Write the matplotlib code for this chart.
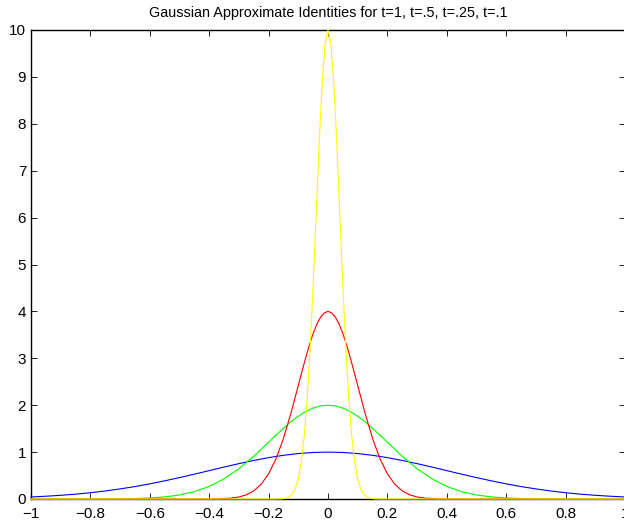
import matplotlib
matplotlib.use("Agg")
import matplotlib.pyplot as plt

plt.rcParams['font.family'] = ['Liberation Sans', 'DejaVu Sans']

# t = 1 (blue), values every 0.05
x_t1 = [-1.00, -0.95, -0.90, -0.85, -0.80, -0.75, -0.70, -0.65, -0.60, -0.55,
        -0.50, -0.45, -0.40, -0.35, -0.30, -0.25, -0.20, -0.15, -0.10, -0.05,
        0.00, 0.05, 0.10, 0.15, 0.20, 0.25, 0.30, 0.35, 0.40, 0.45,
        0.50, 0.55, 0.60, 0.65, 0.70, 0.75, 0.80, 0.85, 0.90, 0.95, 1.00]
y_t1 = [0.043, 0.059, 0.079, 0.103, 0.134, 0.171, 0.215, 0.265, 0.323, 0.387,
        0.456, 0.529, 0.605, 0.681, 0.754, 0.822, 0.882, 0.932, 0.969, 0.992,
        1.000, 0.992, 0.969, 0.932, 0.882, 0.822, 0.754, 0.681, 0.605, 0.529,
        0.456, 0.387, 0.323, 0.265, 0.215, 0.171, 0.134, 0.103, 0.079, 0.059, 0.043]

# t = .5 (green), denser near the peak
x_t05 = [-1.00, -0.95, -0.90, -0.85, -0.80, -0.75, -0.70, -0.65, -0.60, -0.55,
         -0.50, -0.45, -0.40, -0.35, -0.30, -0.25, -0.20, -0.175, -0.15, -0.125,
         -0.10, -0.075, -0.05, -0.025, 0.00, 0.025, 0.05, 0.075, 0.10, 0.125,
         0.15, 0.175, 0.20, 0.25, 0.30, 0.35, 0.40, 0.45, 0.50, 0.55,
         0.60, 0.65, 0.70, 0.75, 0.80, 0.85, 0.90, 0.95, 1.00]
y_t05 = [0.000, 0.000, 0.000, 0.000, 0.001, 0.002, 0.004, 0.010, 0.022, 0.045,
         0.086, 0.157, 0.268, 0.429, 0.645, 0.912, 1.210, 1.361, 1.507, 1.643,
         1.764, 1.864, 1.938, 1.984, 2.000, 1.984, 1.938, 1.864, 1.764, 1.643,
         1.507, 1.361, 1.210, 0.912, 0.645, 0.429, 0.268, 0.157, 0.086, 0.045,
         0.022, 0.010, 0.004, 0.002, 0.001, 0.000, 0.000, 0.000, 0.000]

# t = .25 (red)
x_t025 = [-1.0, -0.4, -0.375, -0.35, -0.325, -0.3, -0.275, -0.25, -0.225, -0.2,
          -0.175, -0.15, -0.125, -0.1, -0.0875, -0.075, -0.0625, -0.05, -0.0375, -0.025,
          -0.0125, 0.0, 0.0125, 0.025, 0.0375, 0.05, 0.0625, 0.075, 0.0875, 0.1,
          0.125, 0.15, 0.175, 0.2, 0.225, 0.25, 0.275, 0.3, 0.325, 0.35,
          0.375, 0.4, 1.0]
y_t025 = [0.000, 0.001, 0.003, 0.009, 0.020, 0.043, 0.089, 0.173, 0.314, 0.536,
          0.859, 1.291, 1.824, 2.420, 2.722, 3.015, 3.287, 3.528, 3.727, 3.876,
          3.969, 4.000, 3.969, 3.876, 3.727, 3.528, 3.287, 3.015, 2.722, 2.420,
          1.824, 1.291, 0.859, 0.536, 0.314, 0.173, 0.089, 0.043, 0.020, 0.009,
          0.003, 0.001, 0.000]

# t = .1 (yellow)
x_t01 = [-1.0, -0.18, -0.17, -0.16, -0.15, -0.14, -0.13, -0.12, -0.11, -0.10,
         -0.09, -0.08, -0.07, -0.06, -0.05, -0.04, -0.03, -0.02, -0.01, 0.0,
         0.01, 0.02, 0.03, 0.04, 0.05, 0.06, 0.07, 0.08, 0.09, 0.10,
         0.11, 0.12, 0.13, 0.14, 0.15, 0.16, 0.17, 0.18, 1.0]
y_t01 = [0.000, 0.000, 0.001, 0.003, 0.009, 0.021, 0.049, 0.108, 0.223, 0.432,
         0.785, 1.339, 2.145, 3.227, 4.559, 6.049, 7.537, 8.819, 9.691, 10.000,
         9.691, 8.819, 7.537, 6.049, 4.559, 3.227, 2.145, 1.339, 0.785, 0.432,
         0.223, 0.108, 0.049, 0.021, 0.009, 0.003, 0.001, 0.000, 0.000]

xticks = [-1, -0.8, -0.6, -0.4, -0.2, 0, 0.2, 0.4, 0.6, 0.8, 1]
xtick_labels = ['\u22121', '\u22120.8', '\u22120.6', '\u22120.4', '\u22120.2', '0',
                '0.2', '0.4', '0.6', '0.8', '1']
yticks = [0, 1, 2, 3, 4, 5, 6, 7, 8, 9, 10]

fig = plt.figure(figsize=(6.24, 5.25), dpi=100)
ax = fig.add_axes([31 / 624, 26 / 525, 594 / 624, 469 / 525])

lw = 0.8
ax.plot(x_t1, y_t1, color=(0, 0, 1), lw=lw, zorder=3, clip_on=False)
ax.plot(x_t05, y_t05, color=(0, 1, 0), lw=lw, zorder=3, clip_on=False)
ax.plot(x_t025, y_t025, color=(1, 0, 0), lw=lw, zorder=3, clip_on=False)
ax.plot(x_t01, y_t01, color=(1, 1, 0), lw=lw, zorder=3, clip_on=False)

ax.set_xlim(-1, 1)
ax.set_ylim(0, 10)
ax.set_xticks(xticks)
ax.set_xticklabels(xtick_labels)
ax.set_yticks(yticks)
ax.tick_params(direction='in', length=4, width=0.6, top=True, right=True,
               labelsize=11)
ax.tick_params(axis='x', pad=5.5)
ax.tick_params(axis='y', pad=3.5)
for s in ax.spines.values():
    s.set_linewidth(1.0)

ax.set_title('Gaussian Approximate Identities for t=1, t=.5, t=.25, t=.1',
             fontsize=10.4, pad=9)

fig.savefig('out.png', dpi=100)
